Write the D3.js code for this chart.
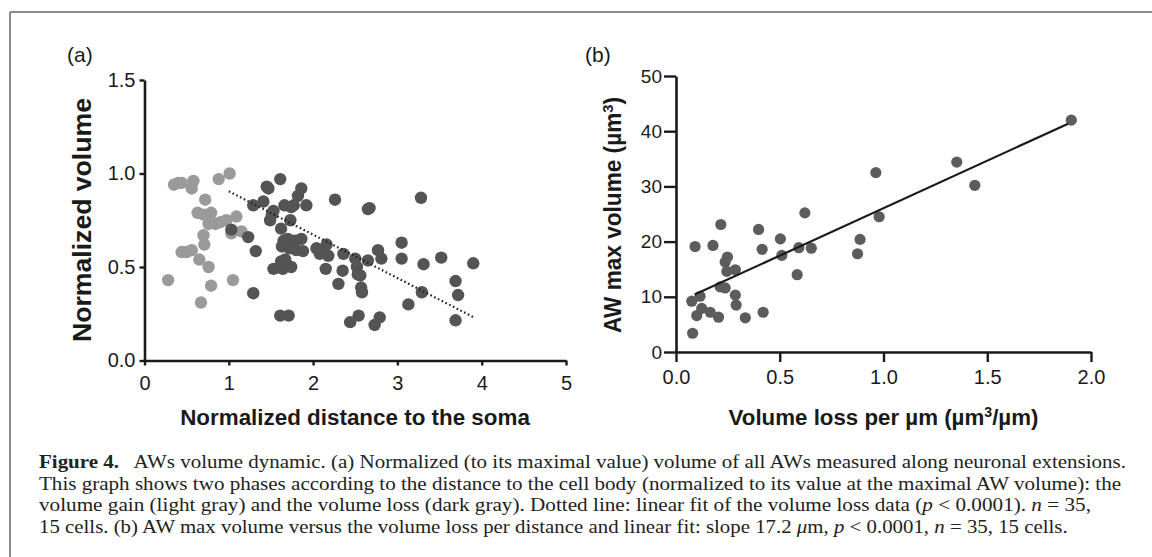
<!DOCTYPE html>
<html>
<head>
<meta charset="utf-8">
<script src="https://cdn.jsdelivr.net/npm/d3@7"></script>
<style>
  html, body { margin: 0; padding: 0; background: #fff; }
  svg { display: block; }
</style>
</head>
<body>
<svg id="fig" width="1152" height="557"></svg>
<script>
// ---------- Data ----------
// Panel (a): volume gain phase (light gray)
const gainDistance = [0.28,0.35,0.40,0.44,0.58,0.56,0.88,1.01,0.72,0.63,0.70,0.79,0.76,0.90,0.97,1.09,1.03,1.15,0.70,0.71,0.44,0.50,0.56,0.65,0.76,0.79,1.05,0.67,0.84];
const gainVolume   = [0.43,0.94,0.95,0.95,0.96,0.92,0.97,1.00,0.86,0.79,0.78,0.79,0.73,0.74,0.75,0.77,0.68,0.69,0.67,0.62,0.58,0.58,0.59,0.54,0.50,0.40,0.43,0.31,0.73];
// Panel (a): volume loss phase (dark gray)
const lossDistance = [1.03,1.23,1.32,1.29,1.29,1.41,1.45,1.47,1.61,1.86,1.82,1.66,1.77,1.74,1.92,1.53,1.51,1.49,1.73,1.62,
                      1.65,1.70,1.78,1.86,1.63,1.72,1.80,1.88,1.68,2.04,2.16,2.08,2.18,2.12,2.36,2.50,2.65,2.77,2.81,3.05,
                      3.05,2.52,2.56,2.35,2.15,2.30,2.57,2.58,1.53,1.62,1.67,1.74,1.64,1.69,1.61,1.71,2.44,2.54,2.73,2.79,
                      3.13,2.26,2.65,2.67,3.28,3.31,3.52,3.90,3.69,3.72,3.29,3.69,2.53];
const lossVolume   = [0.70,0.66,0.585,0.36,0.83,0.85,0.93,0.92,0.97,0.92,0.88,0.83,0.83,0.82,0.83,0.80,0.78,0.75,0.75,0.705,
                      0.64,0.65,0.64,0.65,0.61,0.60,0.59,0.585,0.63,0.60,0.62,0.57,0.56,0.59,0.57,0.545,0.535,0.59,0.545,0.63,
                      0.545,0.50,0.455,0.48,0.49,0.41,0.39,0.365,0.49,0.53,0.54,0.50,0.49,0.51,0.24,0.24,0.205,0.24,0.19,0.23,
                      0.30,0.86,0.81,0.815,0.87,0.515,0.55,0.52,0.425,0.35,0.365,0.215,0.46];
// Dotted linear fit of the loss data (endpoints)
const fitA_x = [1.0, 3.91];
const fitA_y = [0.905, 0.23];

// Panel (b)
const lossPerUm = [0.08,0.076,0.116,0.10,0.124,0.165,0.205,0.092,0.178,0.216,0.248,0.237,0.245,0.286,0.213,0.237,0.286,0.29,0.334,0.398,
                   0.415,0.42,0.503,0.51,0.584,0.592,0.621,0.652,0.875,0.887,0.963,0.979,1.353,1.44,1.905];
const maxVolume = [3.4,9.2,10.1,6.6,7.9,7.2,6.3,19.1,19.3,23.1,17.2,16.3,14.6,14.9,11.8,11.6,10.3,8.5,6.2,22.2,
                   18.6,7.2,20.5,17.5,14.0,18.9,25.2,18.8,17.8,20.4,32.5,24.5,34.4,30.2,42.0];
const fitB_x = [0.09, 1.89];
const fitB_slope = 17.2, fitB_intercept = 8.85;

const ticksAX = [0,1,2,3,4,5];
const ticksAY = [0.0,0.5,1.0,1.5];
const ticksBX = [0.0,0.5,1.0,1.5,2.0];
const ticksBY = [0,10,20,30,40,50];

const captionLines = [
  [{t:"Figure 4.", b:true},{t:"\u2002 AWs volume dynamic. (a) Normalized (to its maximal value) volume of all AWs measured along neuronal extensions."}],
  [{t:"This graph shows two phases according to the distance to the cell body (normalized to its value at the maximal AW volume): the"}],
  [{t:"volume gain (light gray) and the volume loss (dark gray). Dotted line: linear fit of the volume loss data ("},{t:"p",i:true},{t:" < 0.0001). "},{t:"n",i:true},{t:" = 35,"}],
  [{t:"15 cells. (b) AW max volume versus the volume loss per distance and linear fit: slope 17.2 "},{t:"\u03bc",i:true},{t:"m, "},{t:"p",i:true},{t:" < 0.0001, "},{t:"n",i:true},{t:" = 35, 15 cells."}]
];

// ---------- Drawing ----------
const svg = d3.select("#fig");
const SANS = "'Liberation Sans', Arial, Helvetica, sans-serif";
const SERIF = "'Liberation Serif', 'Times New Roman', serif";

// frame
svg.append("line").attr("x1",10).attr("x2",1152).attr("y1",12).attr("y2",12).attr("stroke","#8c8c8c").attr("stroke-width",2);
svg.append("line").attr("x1",10).attr("x2",10).attr("y1",12).attr("y2",557).attr("stroke","#8c8c8c").attr("stroke-width",2);

// helper: fit text horizontally to a target width, anchored at (x,y)
function fitWidth(sel, x, y, target, anchor, rotate) {
  const w = sel.node().getComputedTextLength();
  const s = target / w;
  if (rotate) sel.attr("transform", `translate(${x},${y}) rotate(-90) scale(${s},1)`);
  else sel.attr("transform", `translate(${x},${y}) scale(${s},1)`);
  sel.attr("text-anchor", anchor);
}

function styleAxis(g, fs) {
  g.select(".domain").attr("stroke","#1a1a1a").attr("stroke-width",2.6);
  g.selectAll(".tick line").attr("stroke","#1a1a1a").attr("stroke-width",2.4);
  g.selectAll(".tick text").attr("fill","#1a1a1a").style("font-family",SANS).style("font-size",fs+"px");
}

// ===== Panel (a) =====
const xA = d3.scaleLinear().domain([0,5]).range([144.5,566]);
const yA = d3.scaleLinear().domain([0,1.5]).range([360.5,80]);

const gxA = svg.append("g").attr("transform",`translate(0,${yA(0)})`)
  .call(d3.axisBottom(xA).tickValues(ticksAX).tickFormat(d3.format("d")).tickSize(5).tickSizeOuter(0).tickPadding(10));
styleAxis(gxA, 20);
const gyA = svg.append("g").attr("transform",`translate(${xA(0)},0)`)
  .call(d3.axisLeft(yA).tickValues(ticksAY).tickFormat(d3.format(".1f")).tickSize(5).tickSizeOuter(0).tickPadding(4));
styleAxis(gyA, 20);

svg.append("g").selectAll("circle").data(gainDistance.map((d,i)=>[d,gainVolume[i]]))
  .join("circle").attr("cx",d=>xA(d[0])).attr("cy",d=>yA(d[1])).attr("r",6.2).attr("fill","#9a9a9a");
svg.append("g").selectAll("circle").data(lossDistance.map((d,i)=>[d,lossVolume[i]]))
  .join("circle").attr("cx",d=>xA(d[0])).attr("cy",d=>yA(d[1])).attr("r",6.2).attr("fill","#545454");

svg.append("line").attr("x1",xA(fitA_x[0])).attr("y1",yA(fitA_y[0])).attr("x2",xA(fitA_x[1])).attr("y2",yA(fitA_y[1]))
  .attr("stroke","#222").attr("stroke-width",2.2).attr("stroke-dasharray","1.6 2.6");

svg.append("text").text("(a)").style("font-family",SANS).style("font-size","21px").attr("fill","#1a1a1a")
  .attr("x",67).attr("y",62);

const tAx = svg.append("text").text("Normalized distance to the soma")
  .style("font-family",SANS).style("font-weight","bold").style("font-size","22px").attr("fill","#1a1a1a");
fitWidth(tAx, 355, 425, 350, "middle");

const tAy = svg.append("text").text("Normalized volume")
  .style("font-family",SANS).style("font-weight","bold").style("font-size","26px").attr("fill","#1a1a1a").attr("dy","0.36em");
fitWidth(tAy, 82, 220, 244, "middle", true);

// ===== Panel (b) =====
const xB = d3.scaleLinear().domain([0,2]).range([676,1091]);
const yB = d3.scaleLinear().domain([0,50]).range([352,76]);

const gxB = svg.append("g").attr("transform",`translate(0,${yB(0)})`)
  .call(d3.axisBottom(xB).tickValues(ticksBX).tickFormat(d3.format(".1f")).tickSize(10).tickSizeOuter(0).tickPadding(8));
styleAxis(gxB, 20);
const gyB = svg.append("g").attr("transform",`translate(${xB(0)},0)`)
  .call(d3.axisLeft(yB).tickValues(ticksBY).tickFormat(d3.format("d")).tickSize(12).tickSizeOuter(0).tickPadding(2));
styleAxis(gyB, 19);

svg.append("g").selectAll("circle").data(lossPerUm.map((d,i)=>[d,maxVolume[i]]))
  .join("circle").attr("cx",d=>xB(d[0])).attr("cy",d=>yB(d[1])).attr("r",5.6).attr("fill","#5c5c5c");

svg.append("line").attr("x1",xB(fitB_x[0])).attr("y1",yB(fitB_intercept+fitB_slope*fitB_x[0]))
  .attr("x2",xB(fitB_x[1])).attr("y2",yB(fitB_intercept+fitB_slope*fitB_x[1]))
  .attr("stroke","#1a1a1a").attr("stroke-width",2.2);

svg.append("text").text("(b)").style("font-family",SANS).style("font-size","21px").attr("fill","#1a1a1a")
  .attr("x",585).attr("y",62);

const tBx = svg.append("text").style("font-family",SANS).style("font-weight","bold").style("font-size","22px").attr("fill","#1a1a1a");
tBx.append("tspan").text("Volume loss per \u00b5m (\u00b5m");
tBx.append("tspan").text("3").style("font-size","14px").attr("dy","-8");
tBx.append("tspan").text("/\u00b5m)").attr("dy","8");
fitWidth(tBx, 883.5, 425, 310, "middle");

const tBy = svg.append("text").style("font-family",SANS).style("font-weight","bold").style("font-size","23px").attr("fill","#1a1a1a").attr("dy","0.36em");
tBy.append("tspan").text("AW max volume (\u00b5m");
tBy.append("tspan").text("3").style("font-size","15px").attr("dy","-8");
tBy.append("tspan").text(")").attr("dy","8");
fitWidth(tBy, 613, 215, 236, "middle", true);

// ===== Caption =====
const capBase = [468, 489.5, 511, 533];
const capEnd = [1127, 1122, 1092, 1068];
captionLines.forEach((line, li) => {
  const t = svg.append("text").style("font-family",SERIF).style("font-size","19px").attr("fill","#222");
  line.forEach(seg => {
    const ts = t.append("tspan").text(seg.t);
    if (seg.b) ts.style("font-weight","bold");
    if (seg.i) ts.style("font-style","italic");
  });
  fitWidth(t, 39, capBase[li], capEnd[li]-39, "start");
});
</script>
</body>
</html>
